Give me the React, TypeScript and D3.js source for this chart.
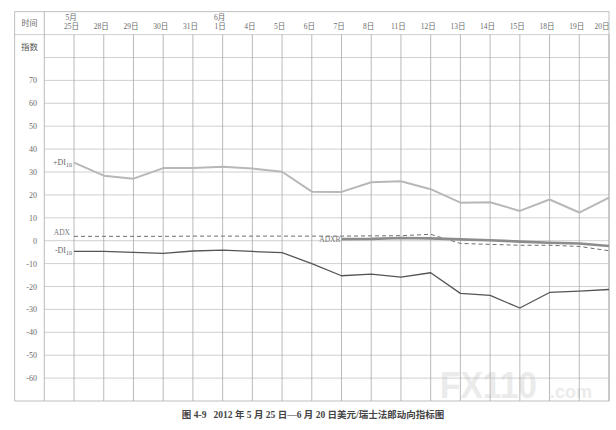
import React from "react";
import * as d3 from "d3";

const dates = ["25日", "28日", "29日", "30日", "31日", "1日", "4日", "5日", "6日", "7日", "8日", "11日", "12日", "13日", "14日", "15日", "18日", "19日", "20日"];
const monthLabels: { index: number; label: string }[] = [
  { index: 0, label: "5月" },
  { index: 5, label: "6月" },
];
const plusDI = [34.1, 28.4, 27.1, 31.7, 31.7, 32.3, 31.5, 30.1, 21.4, 21.3, 25.5, 26.0, 22.5, 16.6, 16.8, 13.0, 18.0, 12.3, 18.8];
const minusDI = [-4.7, -4.7, -5.1, -5.5, -4.5, -4.1, -4.7, -5.2, -10.0, -15.3, -14.6, -15.9, -14.0, -23.0, -23.9, -29.4, -22.6, -22.0, -21.3];
const adx = [1.9, 1.9, 1.9, 1.9, 2.0, 2.0, 2.0, 2.0, 2.0, 2.0, 2.1, 2.2, 2.8, -1.2, -1.6, -2.0, -2.0, -2.5, -4.4];
const adxr: (number | null)[] = [null, null, null, null, null, null, null, null, null, 0.7, 0.8, 1.2, 1.0, 0.6, 0.2, -0.4, -0.9, -1.2, -2.3];
const yTicks = [70, 60, 50, 40, 30, 20, 10, 0, -10, -20, -30, -40, -50, -60];
const gridValues = [80, 70, 60, 50, 40, 30, 20, 10, 0, -10, -20, -30, -40, -50, -60];

const W = 616;
const H = 430;
const frameLeft = 14.7;
const colRight = 44.3;
const frameRight = 609;
const frameTop = 11.7;
const frameBottom = 401;

export default function App() {
  const x = d3.scaleLinear().domain([-1, dates.length - 1]).range([colRight, frameRight]);
  const y = d3.scaleLinear().domain([-70, 100]).range([frameBottom, frameTop]);

  const line = d3
    .line<number | null>()
    .defined((d) => d !== null)
    .x((_, i) => x(i))
    .y((d) => y(d as number));

  const serif = "'Liberation Serif', 'DejaVu Serif', 'Noto Sans CJK SC', serif";
  const cjk = "'Liberation Serif', 'Noto Sans CJK SC', serif";
  const gridColor = "#c4c4c4";
  const vGridColor = "#a8a8a8";
  const textColor = "#6a6a6a";

  const firstAdxr = adxr.findIndex((d) => d !== null);

  return (
    <svg width={W} height={H} style={{ position: "absolute", left: 0, top: 0, background: "#fff" }}>
      <rect x={0} y={0} width={W} height={H} fill="#fff" />
      {/* watermark */}
      <g>
        <text x={440} y={398} fontFamily="'Liberation Sans', Arial, sans-serif" fontWeight="bold" fontSize={36} fill="#ebebeb" textLength={97} lengthAdjust="spacingAndGlyphs">
          FX110
        </text>
        <text x={550} y={398} fontFamily="'Liberation Sans', Arial, sans-serif" fontWeight="bold" fontSize={18} fill="#ebebeb">
          .com
        </text>
      </g>

      {/* horizontal grid */}
      {gridValues.map((v) => (
        <line key={"h" + v} x1={colRight} x2={frameRight} y1={y(v)} y2={y(v)} stroke={gridColor} strokeWidth={0.8} />
      ))}
      {/* header divider (time row) */}
      <line x1={frameLeft} x2={frameRight} y1={y(90)} y2={y(90)} stroke={gridColor} strokeWidth={0.8} />
      {/* vertical grid */}
      {dates.map((d, i) => (
        <line key={"v" + i} x1={x(i)} x2={x(i)} y1={y(90)} y2={frameBottom} stroke={vGridColor} strokeWidth={0.8} />
      ))}
      <line x1={colRight} x2={colRight} y1={frameTop} y2={frameBottom} stroke={vGridColor} strokeWidth={0.8} />
      {/* frame */}
      <rect x={frameLeft} y={frameTop} width={frameRight - frameLeft} height={frameBottom - frameTop} fill="none" stroke="#b0b0b0" strokeWidth={0.8} />

      {/* left column headers */}
      <text x={(frameLeft + colRight) / 2} y={(y(100) + y(90)) / 2 + 3} textAnchor="middle" fontFamily={cjk} fontSize={8} fill={textColor}>
        时间
      </text>
      <text x={(frameLeft + colRight) / 2} y={(y(90) + y(80)) / 2 + 3.5} textAnchor="middle" fontFamily={cjk} fontSize={8.5} fill="#555">
        指数
      </text>

      {/* y tick labels */}
      {yTicks.map((v) => (
        <text key={"t" + v} x={37} y={y(v) + 3} textAnchor="end" fontFamily={serif} fontSize={8} fill={textColor}>
          {v}
        </text>
      ))}

      {/* date labels */}
      {dates.map((d, i) => (
        <text key={"d" + i} x={Math.min(x(i) - 2.5, frameRight - 7)} y={y(90) - 6} textAnchor="middle" fontFamily={cjk} fontSize={7.5} fill={textColor}>
          {d}
        </text>
      ))}
      {monthLabels.map((m) => (
        <text key={"m" + m.index} x={x(m.index) - 3} y={y(90) - 15} textAnchor="middle" fontFamily={cjk} fontSize={7.5} fill={textColor}>
          {m.label}
        </text>
      ))}

      {/* series */}
      <path d={line(plusDI) || ""} fill="none" stroke="#b8b8b8" strokeWidth={2} strokeLinejoin="round" />
      <path d={line(adx) || ""} fill="none" stroke="#6e6e6e" strokeWidth={1} strokeDasharray="4,3" />
      <path d={line(adxr) || ""} fill="none" stroke="#8c8c8c" strokeWidth={2.6} strokeLinejoin="round" />
      <path d={line(minusDI) || ""} fill="none" stroke="#555" strokeWidth={1.3} strokeLinejoin="round" />

      {/* series labels */}
      <text x={x(0) - 2} y={y(plusDI[0]) + 2} textAnchor="end" fontFamily={serif} fontSize={8} fill="#666">
        +DI<tspan fontSize={6} dy={2}>10</tspan>
      </text>
      <text x={x(0) - 2} y={y(minusDI[0]) + 2} textAnchor="end" fontFamily={serif} fontSize={8} fill="#666">
        -DI<tspan fontSize={6} dy={2}>10</tspan>
      </text>
      <text x={x(0) - 4} y={y(adx[0]) - 1.5} textAnchor="end" fontFamily={serif} fontSize={7.5} fill="#777">
        ADX
      </text>
      <text x={x(firstAdxr) - 1} y={y(adxr[firstAdxr] as number) + 2.5} textAnchor="end" fontFamily={serif} fontSize={7.5} fill="#777">
        ADXR
      </text>

      {/* caption */}
      <text x={313} y={418} textAnchor="middle" fontFamily="'Liberation Serif', 'Noto Sans CJK SC', serif" fontWeight="bold" fontSize={9.5} fill="#444">
        图 4-9{"\u00a0\u00a0\u00a0"}2012 年 5 月 25 日—6 月 20 日美元/瑞士法郎动向指标图
      </text>
    </svg>
  );
}
